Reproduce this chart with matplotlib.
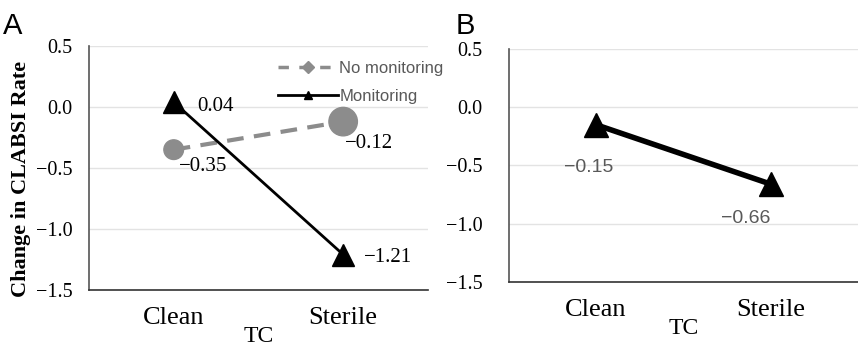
import numpy as np
import matplotlib
matplotlib.use('Agg')
import matplotlib.pyplot as plt
from matplotlib.lines import Line2D

# data
categories = ['Clean', 'Sterile']
a_no_monitoring = [-0.35, -0.12]
a_monitoring = [0.04, -1.21]
b_values = [-0.15, -0.66]
yticks = [0.5, 0.0, -0.5, -1.0, -1.5]

serif = 'Liberation Serif'
sans = 'Liberation Sans'
gray = '#8c8c8c'
txtgray = '#595959'

fig = plt.figure(figsize=(8.58, 3.51), dpi=100)
axA = fig.add_axes([0.1037, 0.174, 0.395, 0.695])
axB = fig.add_axes([0.593, 0.197, 0.407, 0.663])

def style(ax, ypad):
    ax.set_xlim(-0.5, 1.5)
    ax.set_ylim(-1.5, 0.5)
    ax.set_yticks(yticks)
    ax.set_yticklabels(['%.1f' % v if v >= 0 else '\u2212%.1f' % abs(v) for v in yticks],
                       family=serif, fontsize=14.5)
    ax.set_xticks(range(len(categories)))
    ax.set_xticklabels(categories, family=serif, fontsize=19)
    ax.tick_params(length=0)
    ax.tick_params(axis='y', pad=ypad)
    ax.tick_params(axis='x', pad=12)
    ax.grid(axis='y', color='#e3e3e3', linewidth=1)
    ax.set_axisbelow(True)
    for s in ['top', 'right']:
        ax.spines[s].set_visible(False)
    ax.spines['left'].set_color('#555555')
    ax.spines['bottom'].set_color('#333333')
    ax.spines['left'].set_linewidth(1.2)
    ax.spines['bottom'].set_linewidth(1.2)
    ax.set_xlabel('TC', family=serif, fontsize=17, labelpad=-2)

def fmt(v):
    return ('%.2f' % v) if v >= 0 else '\u2212%.2f' % abs(v)

x = np.arange(len(categories))

# panel A
style(axA, 12)
axA.plot(x, a_no_monitoring, color=gray, linestyle=(0, (4, 2.5)), linewidth=3, zorder=2)
axA.scatter(x, a_no_monitoring, s=[200, 420], color=gray, zorder=3)
axA.plot(x, a_monitoring, color='black', linewidth=2, marker='^', markersize=16, zorder=4)
axA.set_ylabel('Change in CLABSI Rate', family=serif, fontsize=16, fontweight='bold')
axA.yaxis.set_label_coords(-0.17, 0.455)

axA.annotate(fmt(a_monitoring[0]), (x[0], a_monitoring[0]), xytext=(17, -3), textcoords='offset points',
             family=serif, fontsize=15, va='center', ha='left')
axA.annotate(fmt(a_no_monitoring[0]), (x[0], a_no_monitoring[0]), xytext=(4, -12), textcoords='offset points',
             family=serif, fontsize=15, va='center', ha='left')
axA.annotate(fmt(a_no_monitoring[1]), (x[1], a_no_monitoring[1]), xytext=(1, -16), textcoords='offset points',
             family=serif, fontsize=15, va='center', ha='left')
axA.annotate(fmt(a_monitoring[1]), (x[1], a_monitoring[1]), xytext=(15, -2), textcoords='offset points',
             family=serif, fontsize=15, va='center', ha='left')

handles = [
    Line2D([], [], color=gray, linestyle=(0, (3, 3)), linewidth=2.5, marker='D', markersize=6),
    Line2D([], [], color='black', linewidth=2, marker='^', markersize=6),
]
fig.legend(handles, ['No monitoring', 'Monitoring'], loc='upper left', bbox_to_anchor=(0.306, 0.87),
           frameon=False, prop={'family': sans, 'size': 12}, labelcolor=txtgray,
           handlelength=3.6, handletextpad=0.1, labelspacing=0.8)

# panel B
style(axB, 19)
axB.plot(x, b_values, color='black', linewidth=4, marker='^', markersize=17, zorder=4)
axB.annotate(fmt(b_values[0]), (x[0], b_values[0]), xytext=(-5, -31), textcoords='offset points',
             family=sans, fontsize=14, color=txtgray, va='center', ha='center')
axB.annotate(fmt(b_values[1]), (x[1], b_values[1]), xytext=(-18, -25), textcoords='offset points',
             family=sans, fontsize=14, color=txtgray, va='center', ha='center')

fig.text(0.004, 0.965, 'A', family=sans, fontsize=21, va='top', ha='left')
fig.text(0.531, 0.965, 'B', family=sans, fontsize=21, va='top', ha='left')

fig.savefig('out.png', dpi=100)
